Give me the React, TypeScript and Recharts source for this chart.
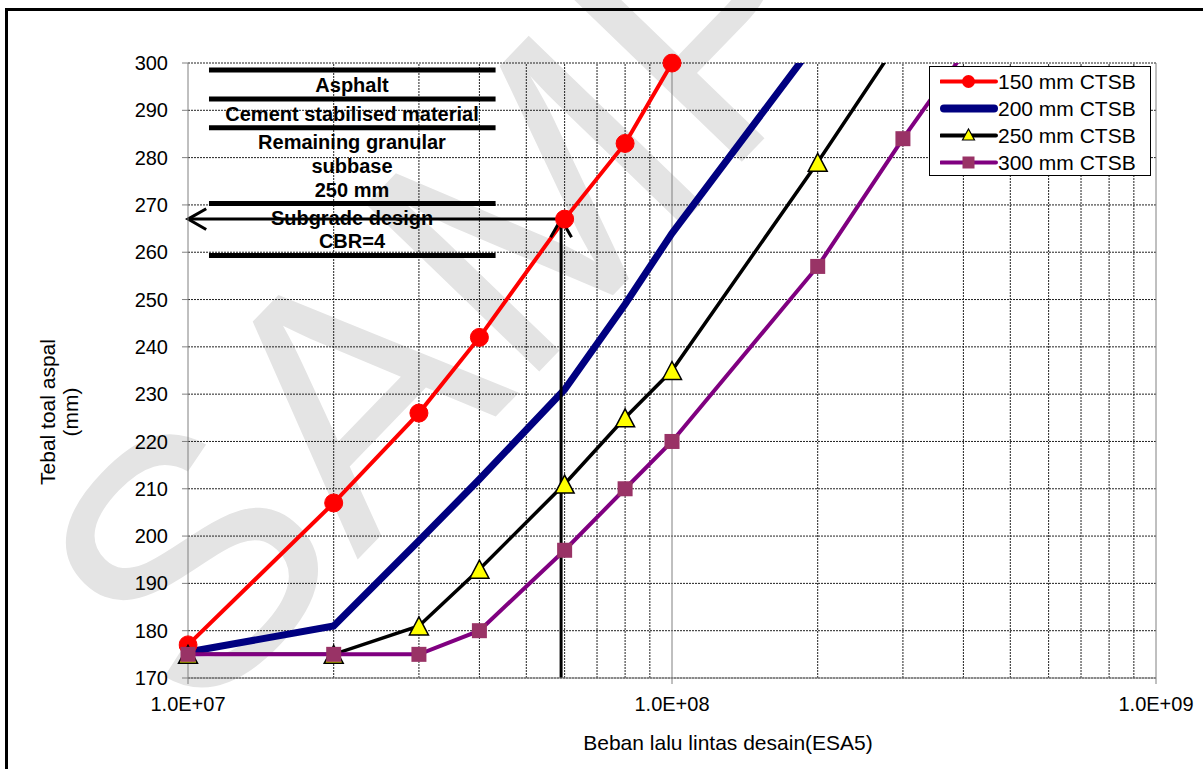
import React from 'react';
import { LineChart, Line, XAxis, YAxis, CartesianGrid, ReferenceLine, Legend } from 'recharts';

// Beban lalu lintas desain (ESA5) where the thicknesses were read
const esaLoads = [1e7, 2e7, 3e7, 4e7, 6e7, 8e7, 1e8, 2e8, 3e8, 4e8];

// Tebal total aspal (mm) for each CTSB thickness
const ctsb150 = [177, 207, 226, 242, 267, 283, 300];
const ctsb200 = [175.5, 181, 199, 212, 231, 249, 264, 305];
const ctsb250 = [175, 175, 181, 193, 211, 225, 235, 279, 306];
const ctsb300 = [175, 175, 175, 180, 197, 210, 220, 257, 284, 302];

const seriesNames = ['150 mm CTSB', '200 mm CTSB', '250 mm CTSB', '300 mm CTSB'];

const xTicks = [1e7, 1e8, 1e9];
const yTicks = [170, 180, 190, 200, 210, 220, 230, 240, 250, 260, 270, 280, 290, 300];
const minorGridX = [2e7, 3e7, 4e7, 5e7, 6e7, 7e7, 8e7, 9e7, 2e8, 3e8, 4e8, 5e8, 6e8, 7e8, 8e8, 9e8];
const majorGridX = [1e8, 1e9];

// pavement layer sketch (boundaries on the thickness scale)
const layerBounds = [298.5, 292.4, 286.3, 270.3, 259.3];
const layerFrom = 1.105e7;
const layerTo = 4.32e7;

const designLoad = 5.9e7;
const designThickness = 267;

const data = esaLoads.map((esa, i) => ({
  esa,
  s150: ctsb150[i],
  s200: ctsb200[i],
  s250: ctsb250[i],
  s300: ctsb300[i],
}));

const FONT = "'Liberation Sans', Arial, Helvetica, sans-serif";

const fmtExp = (v: number) => {
  const e = Math.round(Math.log10(v));
  return `1.0E+${String(e).padStart(2, '0')}`;
};

const triangleDot = (p: any) => {
  const { cx, cy, index } = p;
  if (typeof cx !== 'number' || typeof cy !== 'number') return <g key={`tri-${index}`} />;
  return (
    <polygon
      key={`tri-${index}`}
      points={`${cx},${cy - 9} ${cx + 9.5},${cy + 9} ${cx - 9.5},${cy + 9}`}
      fill="#ffff00"
      stroke="#000"
      strokeWidth={1.5}
    />
  );
};

const squareDot = (p: any) => {
  const { cx, cy, index } = p;
  if (typeof cx !== 'number' || typeof cy !== 'number') return <g key={`sq-${index}`} />;
  return <rect key={`sq-${index}`} x={cx - 7.5} y={cy - 7.5} width={15} height={15} fill="#993366" />;
};

const arrowShape = (p: any) => {
  const { x1, y1, x2, y2 } = p;
  const a = Math.atan2(y1 - y2, x1 - x2);
  const len = 21;
  const spread = 0.52;
  const lx = x2 + len * Math.cos(a + spread);
  const ly = y2 + len * Math.sin(a + spread);
  const rx = x2 + len * Math.cos(a - spread);
  const ry = y2 + len * Math.sin(a - spread);
  return (
    <g>
      <line x1={x1} y1={y1} x2={x2} y2={y2} stroke="#000" strokeWidth={3} />
      <polyline points={`${lx},${ly} ${x2},${y2} ${rx},${ry}`} fill="none" stroke="#000" strokeWidth={3} />
    </g>
  );
};

function LegendBox() {
  const row = (i: number, sample: React.ReactNode) => (
    <div key={i} style={{ display: 'flex', alignItems: 'center', height: 27 }}>
      <svg width={58} height={27} style={{ display: 'block' }}>
        {sample}
      </svg>
      <span style={{ fontSize: 21, fontFamily: FONT, color: '#000', whiteSpace: 'nowrap' }}>{seriesNames[i]}</span>
    </div>
  );
  return (
    <div
      style={{
        width: 222,
        height: 110,
        boxSizing: 'border-box',
        border: '1px solid #000',
        background: '#fff',
        padding: '1px 0 0 10px',
      }}
    >
      {row(0, <>
        <line x1={1} y1={13.5} x2={56} y2={13.5} stroke="#ff0000" strokeWidth={4} strokeLinecap="round" />
        <circle cx={28.5} cy={13.5} r={6.5} fill="#ff0000" />
      </>)}
      {row(1, <line x1={4} y1={13.5} x2={54} y2={13.5} stroke="#000080" strokeWidth={8} strokeLinecap="round" />)}
      {row(2, <>
        <line x1={1} y1={13.5} x2={56} y2={13.5} stroke="#000" strokeWidth={4} strokeLinecap="round" />
        <polygon points="28.5,7 34.5,18 22.5,18" fill="#ffff00" stroke="#000" strokeWidth={1.2} />
      </>)}
      {row(3, <>
        <line x1={1} y1={13.5} x2={56} y2={13.5} stroke="#800080" strokeWidth={4} strokeLinecap="round" />
        <rect x={22.5} y={7.5} width={12} height={12} fill="#993366" />
      </>)}
    </div>
  );
}

export default function App() {
  return (
    <div style={{ position: 'absolute', left: 0, top: 0, width: 1203, height: 769, background: '#fff', overflow: 'hidden' }}>
      {/* watermark and frame behind the chart */}
      <svg width={1203} height={769} style={{ position: 'absolute', left: 0, top: 0 }}>
        <text
          x={195}
          y={728}
          transform="rotate(-46 195 728)"
          fontFamily={FONT}
          fontSize={350}
          fill="#e4e4e4"
        >
          SAMPLE
        </text>
        <polyline points="6.5,769 6.5,9.5 1203,9.5" fill="none" stroke="#000" strokeWidth={3} />
      </svg>

      <div style={{ position: 'absolute', left: 0, top: 0 }}>
        <LineChart width={1203} height={769} data={data} margin={{ top: 63, right: 47, bottom: 0, left: 0 }}>
          <CartesianGrid vertical={false} stroke="#222" strokeDasharray="2 1" />
          {minorGridX.map((x) => (
            <ReferenceLine key={`mg-${x}`} x={x} stroke="#222" strokeDasharray="2 1" />
          ))}
          {majorGridX.map((x) => (
            <ReferenceLine key={`Mg-${x}`} x={x} stroke="#808080" />
          ))}
          <XAxis
            dataKey="esa"
            type="number"
            scale="log"
            domain={[1e7, 1e9]}
            ticks={xTicks}
            tickFormatter={fmtExp}
            height={91}
            tickSize={6}
            tickMargin={13}
            axisLine={{ stroke: '#808080' }}
            tickLine={{ stroke: '#808080' }}
            tick={{ fill: '#000', fontSize: 20, fontFamily: FONT }}
          />
          <YAxis
            type="number"
            domain={[170, 300]}
            ticks={yTicks}
            allowDataOverflow
            width={188}
            tickSize={6}
            tickMargin={14}
            axisLine={{ stroke: '#808080' }}
            tickLine={{ stroke: '#808080' }}
            tick={{ fill: '#000', fontSize: 20, fontFamily: FONT }}
          />
          {layerBounds.map((v) => (
            <ReferenceLine
              key={`layer-${v}`}
              segment={[{ x: layerFrom, y: v }, { x: layerTo, y: v }]}
              stroke="#000"
              strokeWidth={5}
            />
          ))}
          <Line
            dataKey="s150"
            name={seriesNames[0]}
            stroke="#ff0000"
            strokeWidth={4}
            dot={{ r: 9, fill: '#ff0000', stroke: '#ff0000', strokeWidth: 1, clipDot: false }}
            isAnimationActive={false}
          />
          <Line dataKey="s200" name={seriesNames[1]} stroke="#000080" strokeWidth={7} dot={false} isAnimationActive={false} />
          <Line dataKey="s250" name={seriesNames[2]} stroke="#000" strokeWidth={3.5} dot={triangleDot} isAnimationActive={false} />
          <Line dataKey="s300" name={seriesNames[3]} stroke="#800080" strokeWidth={4} dot={squareDot} isAnimationActive={false} />
          <ReferenceLine
            segment={[{ x: designLoad, y: designThickness }, { x: 1e7, y: designThickness }]}
            shape={arrowShape}
          />
          <ReferenceLine
            segment={[{ x: designLoad, y: 170 }, { x: designLoad, y: designThickness }]}
            shape={arrowShape}
          />
          <Legend
            layout="vertical"
            align="center"
            verticalAlign="middle"
            wrapperStyle={{ left: 929, top: 66, width: 222, height: 110 }}
            content={() => <LegendBox />}
          />
        </LineChart>
      </div>

      {/* titles and layer labels */}
      <svg width={1203} height={769} style={{ position: 'absolute', left: 0, top: 0, pointerEvents: 'none' }}>
        <g fontFamily={FONT} fontSize={20} fontWeight="bold" textAnchor="middle" fill="#000">
          <text x={352} y={92}>Asphalt</text>
          <text x={352} y={121}>Cement stabilised material</text>
          <text x={352} y={149}>Remaining granular</text>
          <text x={352} y={173}>subbase</text>
          <text x={352} y={197}>250 mm</text>
          <text x={352} y={225}>Subgrade design</text>
          <text x={352} y={248}>CBR=4</text>
        </g>
        <g fontFamily={FONT} fontSize={21} textAnchor="middle" fill="#000">
          <text x={728} y={750}>Beban lalu lintas desain(ESA5)</text>
          <text transform="translate(55 412) rotate(-90)">Tebal toal aspal</text>
          <text transform="translate(78 412) rotate(-90)">(mm)</text>
        </g>
      </svg>
    </div>
  );
}
